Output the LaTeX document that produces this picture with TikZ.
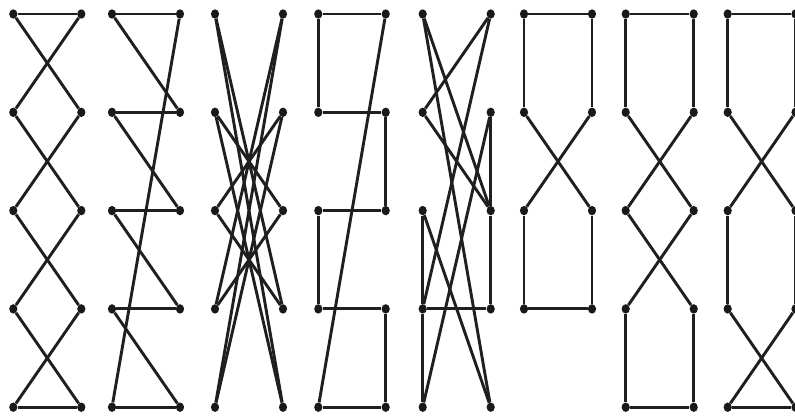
\documentclass[tikz,border=0pt]{standalone}
\usetikzlibrary{shapes.geometric}
\begin{document}
\begin{tikzpicture}[x=1pt,y=-1pt,
  dot/.style={ellipse,fill=black!90,inner sep=0pt,minimum width=8.2pt,minimum height=9.4pt},
  edge/.style={line width=2.9pt,draw=black!88}]
\useasboundingbox[fill=white] (0,0) rectangle (795,416);
% vertices
\foreach \p/\l/\r in {1/13.3/81.3, 2/112/180, 3/215/283, 4/318.3/385.7, 5/422.7/490.7, 7/625.7/693.7, 8/727.7/795.5}{
  \foreach \i/\y in {0/14, 1/112.3, 2/210.6, 3/308.9, 4/407.2}{
    \node[dot] (p\p L\i) at (\l,\y) {};
    \node[dot] (p\p R\i) at (\r,\y) {};
  }
}
\foreach \i/\y in {0/14, 1/112.3, 2/210.6, 3/308.9}{
  \node[dot] (p6L\i) at (524,\y) {};
  \node[dot] (p6R\i) at (592,\y) {};
}
% panel 1
\foreach \a/\b in {L0/R0, L4/R4, L0/R1, R0/L1, L1/R2, R1/L2, L2/R3, R2/L3, L3/R4, R3/L4}
  \draw[edge] (p1\a) -- (p1\b);
% panel 2
\foreach \a/\b in {L0/R0, L1/R1, L2/R2, L3/R3, L4/R4, L0/R1, L1/R2, L2/R3, L3/R4, R0/L4}
  \draw[edge] (p2\a) -- (p2\b);
% panel 3
\foreach \a/\b in {L0/R3, L0/R4, R0/L3, R0/L4, L1/R2, R1/L2, L2/R3, R2/L3, L1/R4, R1/L4}
  \draw[edge] (p3\a) -- (p3\b);
% panel 4
\foreach \a/\b in {L0/R0, L0/L1, L1/R1, R1/R2, R2/L2, L2/L3, L3/R3, R3/R4, R4/L4, L4/R0}
  \draw[edge] (p4\a) -- (p4\b);
% panel 5
\foreach \a/\b in {R0/L1, L0/R2, L0/R4, L1/R2, R1/R2, R2/R3, L2/L3, L3/L4, L3/R3, L2/R4, R1/L4, R0/L3}
  \draw[edge] (p5\a) -- (p5\b);
% panel 6
\foreach \a/\b in {L0/R0, L0/L1, R0/R1, L1/R2, R1/L2, L2/L3, R2/R3, L3/R3}
  \draw[edge] (p6\a) -- (p6\b);
% panel 7
\foreach \a/\b in {L0/R0, L0/L1, R0/R1, L1/R2, R1/L2, L2/R3, R2/L3, L3/L4, R3/R4, L4/R4}
  \draw[edge] (p7\a) -- (p7\b);
% panel 8
\foreach \a/\b in {L0/R0, L0/L1, R0/R1, L1/R2, R1/L2, L2/L3, R2/R3, L3/R4, R3/L4, L4/R4}
  \draw[edge] (p8\a) -- (p8\b);
\end{tikzpicture}
\end{document}
